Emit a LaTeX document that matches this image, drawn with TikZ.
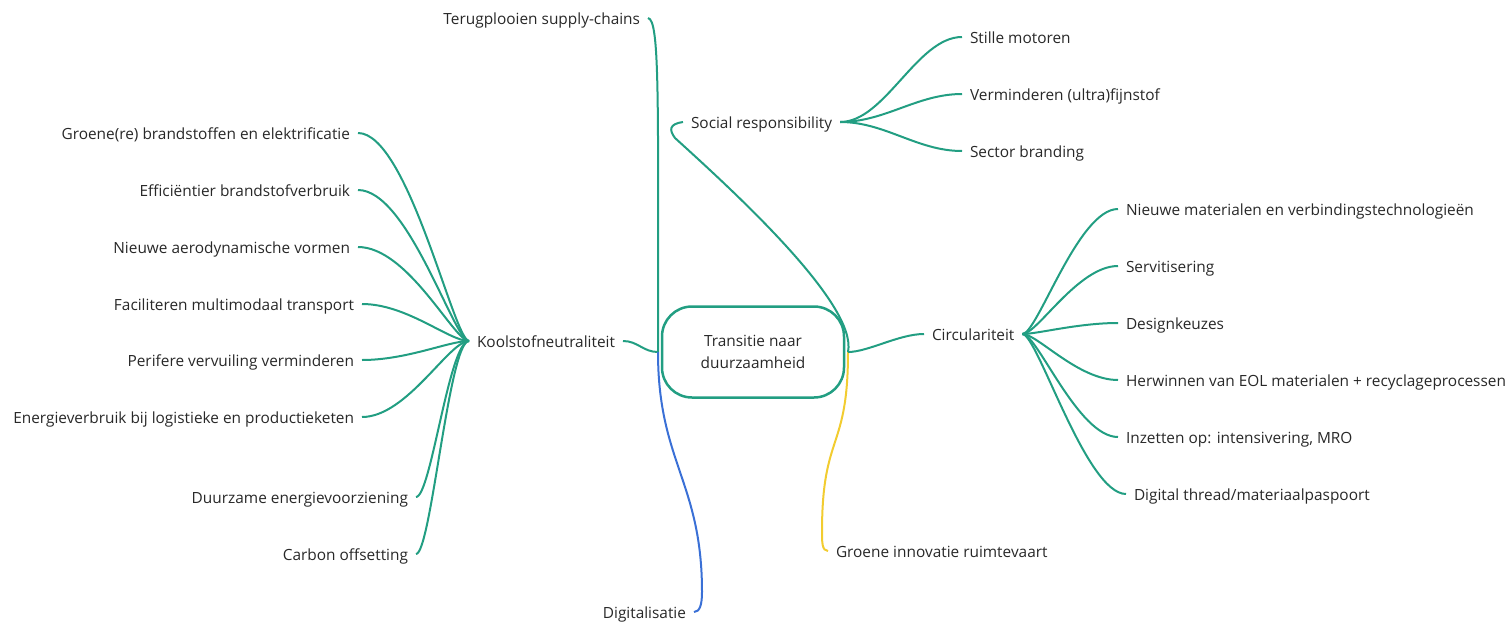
\documentclass[tikz,border=0pt]{standalone}
\usepackage{fontspec}
\setmainfont{Open Sans}
\definecolor{mapteal}{RGB}{34,158,130}
\definecolor{mapblue}{RGB}{58,112,214}
\definecolor{mapyellow}{RGB}{242,204,48}
\definecolor{maptext}{RGB}{40,40,40}
\begin{document}
\begin{tikzpicture}[x=1pt,y=-1pt,
  lbl/.style={inner sep=0pt,outer xsep=8pt,text=maptext,font=\fontsize{15.4}{18}\selectfont,text height=14pt,text depth=2pt},
  link/.style={draw=mapteal,line width=2pt},
  centre/.style={draw=mapteal,line width=2.5pt,rounded corners=30pt,minimum width=182pt,minimum height=91pt,outer sep=4pt,align=center,text=maptext,font=\fontsize{15.4}{22}\selectfont}]
\useasboundingbox (0,0) rectangle (1510,624);

\node[centre] (c) at (753,352) {Transitie naar\\duurzaamheid};

\node[lbl,anchor=west] (k) at (469,341) {Koolstofneutraliteit};
\node[lbl,anchor=east] (k1) at (358,133) {Groene(re) brandstoffen en elektrificatie};
\node[lbl,anchor=east] (k2) at (358,190) {Efficiëntier brandstofverbruik};
\node[lbl,anchor=east] (k3) at (358,247) {Nieuwe aerodynamische vormen};
\node[lbl,anchor=east] (k4) at (362,304) {Faciliteren multimodaal transport};
\node[lbl,anchor=east] (k5) at (362,360) {Perifere vervuiling verminderen};
\node[lbl,anchor=east] (k6) at (362,417) {Energieverbruik bij logistieke en productieketen};
\node[lbl,anchor=east] (k7) at (416,497) {Duurzame energievoorziening};
\node[lbl,anchor=east] (k8) at (416,554) {Carbon offsetting};

\node[lbl,anchor=east] (t) at (648,18) {Terugplooien supply-chains};
\node[lbl,anchor=east] (d) at (694,612) {Digitalisatie};
\node[lbl,anchor=west] (g) at (828,551) {Groene innovatie ruimtevaart};

\node[lbl,anchor=west] (s) at (683,122) {Social responsibility};
\node[lbl,anchor=west] (s1) at (962,37) {Stille motoren};
\node[lbl,anchor=west] (s2) at (962,94) {Verminderen (ultra)fijnstof};
\node[lbl,anchor=west] (s3) at (962,151) {Sector branding};

\node[lbl,anchor=west] (r) at (924,334) {Circulariteit};
\node[lbl,anchor=west] (r1) at (1118,209) {Nieuwe materialen en verbindingstechnologieën};
\node[lbl,anchor=west] (r2) at (1118,266) {Servitisering};
\node[lbl,anchor=west] (r3) at (1118,323) {Designkeuzes};
\node[lbl,anchor=west] (r4) at (1118,380) {Herwinnen van EOL materialen + recyclageprocessen};
\node[lbl,anchor=west] (r5) at (1118,437) {Inzetten op: intensivering, MRO};
\node[lbl,anchor=west] (r6) at (1126,494) {Digital thread/materiaalpaspoort};

\draw[link] (c.west) .. controls +(-15,0) and +(15,0) .. (k.east);
\draw[link] (k.west) .. controls +(-15,0) and +(50,0) .. (k1.east);
\draw[link] (k.west) .. controls +(-15,0) and +(50,0) .. (k2.east);
\draw[link] (k.west) .. controls +(-15,0) and +(50,0) .. (k3.east);
\draw[link] (k.west) .. controls +(-20,0) and +(45,0) .. (k4.east);
\draw[link] (k.west) .. controls +(-20,0) and +(45,0) .. (k5.east);
\draw[link] (k.west) .. controls +(-20,0) and +(45,0) .. (k6.east);
\draw[link] (k.west) .. controls +(-20,0) and +(15,0) .. (k7.east);
\draw[link] (k.west) .. controls +(-20,0) and +(15,0) .. (k8.east);

\draw[link] (t.east) .. controls +(12,2) and +(0,-250) .. (c.west);
\draw[link,draw=mapblue] (c.west) .. controls +(0,110) and +(0,-110) .. ++(44,240) .. controls +(0,12) and +(6,0) .. (d.east);
\draw[link,draw=mapyellow] (c.east) .. controls +(0,100) and +(0,-100) .. ++(-26,180) .. controls +(0,10) and +(-6,0) .. (g.west);

\draw[link] (s.west) .. controls +(-14,2) and +(-6,-8) .. ++(-8,16) .. controls +(55,50) and +(10,-48) .. (c.east);
\draw[link] (s.east) .. controls +(45,0) and +(-45,0) .. (s1.west);
\draw[link] (s.east) .. controls +(45,0) and +(-45,0) .. (s2.west);
\draw[link] (s.east) .. controls +(45,0) and +(-45,0) .. (s3.west);

\draw[link] (c.east) .. controls +(20,0) and +(-25,0) .. (r.west);
\draw[link] (r.east) .. controls +(15,0) and +(-40,0) .. (r1.west);
\draw[link] (r.east) .. controls +(15,0) and +(-40,0) .. (r2.west);
\draw[link] (r.east) .. controls +(15,0) and +(-40,0) .. (r3.west);
\draw[link] (r.east) .. controls +(15,0) and +(-40,0) .. (r4.west);
\draw[link] (r.east) .. controls +(15,0) and +(-40,0) .. (r5.west);
\draw[link] (r.east) .. controls +(15,0) and +(-40,0) .. (r6.west);
\end{tikzpicture}
\end{document}
